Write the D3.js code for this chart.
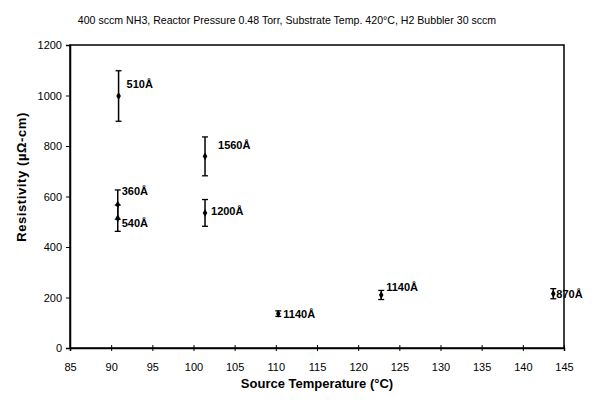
<!DOCTYPE html>
<html>
<head>
<meta charset="utf-8">
<script src="https://cdn.jsdelivr.net/npm/d3@7"></script>
<style>
  body { margin: 0; background: #fff; }
  text { font-family: "Liberation Sans", Arial, sans-serif; fill: #000; }
</style>
</head>
<body>
<svg id="chart"></svg>
<script>
var width = 608,
    height = 401;

// data
var temps = [90.9, 90.8, 90.8, 101.4, 101.4, 110.3, 122.8, 143.7];
var resistivity = [998, 568, 514, 759, 535, 136, 210, 215];
var errors = [100, 58, 52, 77, 53, 11, 18, 20];
var thickness = ["510Å", "360Å", "540Å", "1560Å", "1200Å", "1140Å", "1140Å", "870Å"];
var xTicks = [85, 90, 95, 100, 105, 110, 115, 120, 125, 130, 135, 140, 145];
var yTicks = [0, 200, 400, 600, 800, 1000, 1200];

// where each thickness label sits relative to its point
var labelDx = [8, 4, 4, 13, 6, 5, 5, 3];
var labelDy = [-12, -13, 5, -11, -2, 0, -8, 0];

// plot box (window.top is taken, so named plotTop)
var plotLeft = 70, plotRight = 564, plotTop = 45, plotBottom = 348;

var svg = d3.select("#chart")
  .attr("width", width)
  .attr("height", height);

var x = d3.scaleLinear().domain([85, 145]).range([plotLeft, plotRight]);
var y = d3.scaleLinear().domain([0, 1200]).range([plotBottom, plotTop]);

// title
svg.append("text")
  .attr("x", 287)
  .attr("y", 24)
  .attr("text-anchor", "middle")
  .style("font-size", "10.6px")
  .text("400 sccm NH3, Reactor Pressure 0.48 Torr, Substrate Temp. 420°C, H2 Bubbler 30 sccm");

// frame
svg.append("rect")
  .attr("x", plotLeft).attr("y", plotTop)
  .attr("width", plotRight - plotLeft).attr("height", plotBottom - plotTop)
  .attr("fill", "none").attr("stroke", "#000").attr("stroke-width", 1.5);

// y axis
var yAxis = svg.append("g")
  .attr("transform", "translate(" + plotLeft + ",0)")
  .call(d3.axisLeft(y).tickValues(yTicks).tickSize(4).tickPadding(4).tickFormat(d3.format("d")));
yAxis.select(".domain").attr("stroke-width", 1.5);
yAxis.selectAll("text").style("font-size", "11px").attr("fill", "#000");

// x axis, ticks straddle the line
var xAxis = svg.append("g")
  .attr("transform", "translate(0," + plotBottom + ")")
  .call(d3.axisBottom(x).tickValues(xTicks).tickSize(3).tickPadding(12).tickFormat(d3.format("d")));
xAxis.select(".domain").attr("stroke-width", 1.5);
xAxis.selectAll(".tick line").attr("y1", -3);
xAxis.selectAll("text").style("font-size", "11px").attr("fill", "#000");

// axis titles
svg.append("text")
  .attr("x", 317)
  .attr("y", 388)
  .attr("text-anchor", "middle")
  .style("font-size", "13px")
  .style("font-weight", "bold")
  .text("Source Temperature (°C)");

svg.append("text")
  .attr("transform", "translate(26," + 177 + ") rotate(-90)")
  .attr("text-anchor", "middle")
  .style("font-size", "13px")
  .style("font-weight", "bold")
  .style("letter-spacing", "0.6px")
  .text("Resistivity (µΩ-cm)");

var idx = d3.range(temps.length);

var pts = svg.append("g").selectAll("g")
  .data(idx)
  .enter().append("g");

// error bars
pts.append("line")
  .attr("x1", function(i) { return x(temps[i]); })
  .attr("x2", function(i) { return x(temps[i]); })
  .attr("y1", function(i) { return y(resistivity[i] - errors[i]); })
  .attr("y2", function(i) { return y(resistivity[i] + errors[i]); })
  .attr("stroke", "#000").attr("stroke-width", 1.5);

pts.append("line")
  .attr("x1", function(i) { return x(temps[i]) - 3; })
  .attr("x2", function(i) { return x(temps[i]) + 3; })
  .attr("y1", function(i) { return y(resistivity[i] + errors[i]); })
  .attr("y2", function(i) { return y(resistivity[i] + errors[i]); })
  .attr("stroke", "#000").attr("stroke-width", 1.3);

pts.append("line")
  .attr("x1", function(i) { return x(temps[i]) - 3; })
  .attr("x2", function(i) { return x(temps[i]) + 3; })
  .attr("y1", function(i) { return y(resistivity[i] - errors[i]); })
  .attr("y2", function(i) { return y(resistivity[i] - errors[i]); })
  .attr("stroke", "#000").attr("stroke-width", 1.3);

// diamond markers
pts.append("path")
  .attr("d", d3.symbol().type(d3.symbolDiamond).size(18))
  .attr("transform", function(i) { return "translate(" + x(temps[i]) + "," + y(resistivity[i]) + ")"; })
  .attr("fill", "#000");

// thickness labels
pts.append("text")
  .attr("x", function(i) { return x(temps[i]) + labelDx[i]; })
  .attr("y", function(i) { return y(resistivity[i]) + labelDy[i]; })
  .attr("dy", "0.35em")
  .style("font-size", "11px")
  .style("font-weight", "bold")
  .text(function(i) { return thickness[i]; });
</script>
</body>
</html>
